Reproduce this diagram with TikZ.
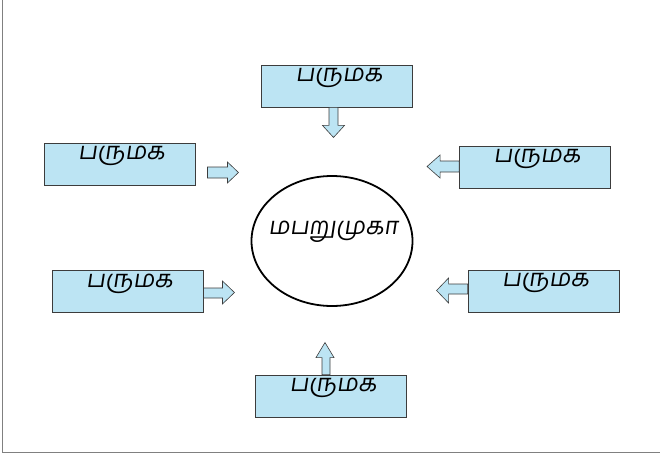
\documentclass[tikz,border=0pt]{standalone}
\usepackage{fontspec}
\newfontfamily\tamilfont[Script=Tamil,FakeSlant=0.15]{Hind Madurai}
\usetikzlibrary{shapes.geometric}
\definecolor{boxblue}{RGB}{188,228,243}
\definecolor{boxline}{RGB}{60,60,60}
\definecolor{framegray}{RGB}{128,128,128}
\begin{document}
\begin{tikzpicture}[x=1pt,y=-1pt,
  box/.style={draw=boxline, fill=boxblue, line width=0.9pt, minimum width=151pt, minimum height=42pt, inner sep=0pt},
  lab/.style={font=\tamilfont\fontsize{24}{24}\selectfont, anchor=base, inner sep=0pt},
  barrow/.style={draw=boxline, fill=boxblue, line width=0.6pt, line join=miter},
  hub/.style={draw=black, line width=1.8pt, ellipse, minimum width=161pt, minimum height=130pt, inner sep=0pt}]
\useasboundingbox (0,0) rectangle (660,457);
\draw[framegray, line width=1.3pt] (2.7,0) -- (2.7,452.3) -- (660,452.3);

\node[box] (tb) at (337,86) {};
\node[box] (lt) at (119.5,164) {};
\node[box] (rt) at (535,167) {};
\node[box] (lb) at (127.5,291.5) {};
\node[box] (rb) at (543.5,291) {};
\node[box] (bb) at (331,396) {};
\node[hub] (c) at (332,241) {};

\foreach \b in {tb,lt,rt,lb,rb,bb}
  \node[lab] at ([xshift=2pt,yshift=-17pt]\b.north) {பருமக};
\node[lab] at ([xshift=1pt,yshift=7pt]c.center) {மபறுமுகா};

\draw[barrow, shift={(tb.south)}] (-8,0) -- (1,0) -- (1,18) -- (7.5,18) -- (-3.5,30) -- (-14.5,18) -- (-8,18) -- cycle;
\draw[barrow, shift={(lt.east)}] (12,3) -- (32,3) -- (32,-2) -- (43,8.5) -- (32,19) -- (32,14) -- (12,14) -- cycle;
\draw[barrow, shift={(rt.west)}] (0,-6) -- (-19,-6) -- (-19,-12) -- (-32,-0.5) -- (-19,11) -- (-19,5) -- (0,5) -- cycle;
\draw[barrow, shift={(lb.east)}] (0,-3.5) -- (19,-3.5) -- (19,-10.5) -- (31,1) -- (19,12.5) -- (19,6.5) -- (0,6.5) -- cycle;
\draw[barrow, shift={(rb.west)}] (0,-7) -- (-19,-7) -- (-19,-13) -- (-31,-0.5) -- (-19,12) -- (-19,3) -- (0,3) -- cycle;
\draw[barrow, shift={(bb.north)}] (-9,0) -- (-9,-17) -- (-15,-17) -- (-6,-32) -- (3,-17) -- (-1,-17) -- (-1,0) -- cycle;
\end{tikzpicture}
\end{document}
